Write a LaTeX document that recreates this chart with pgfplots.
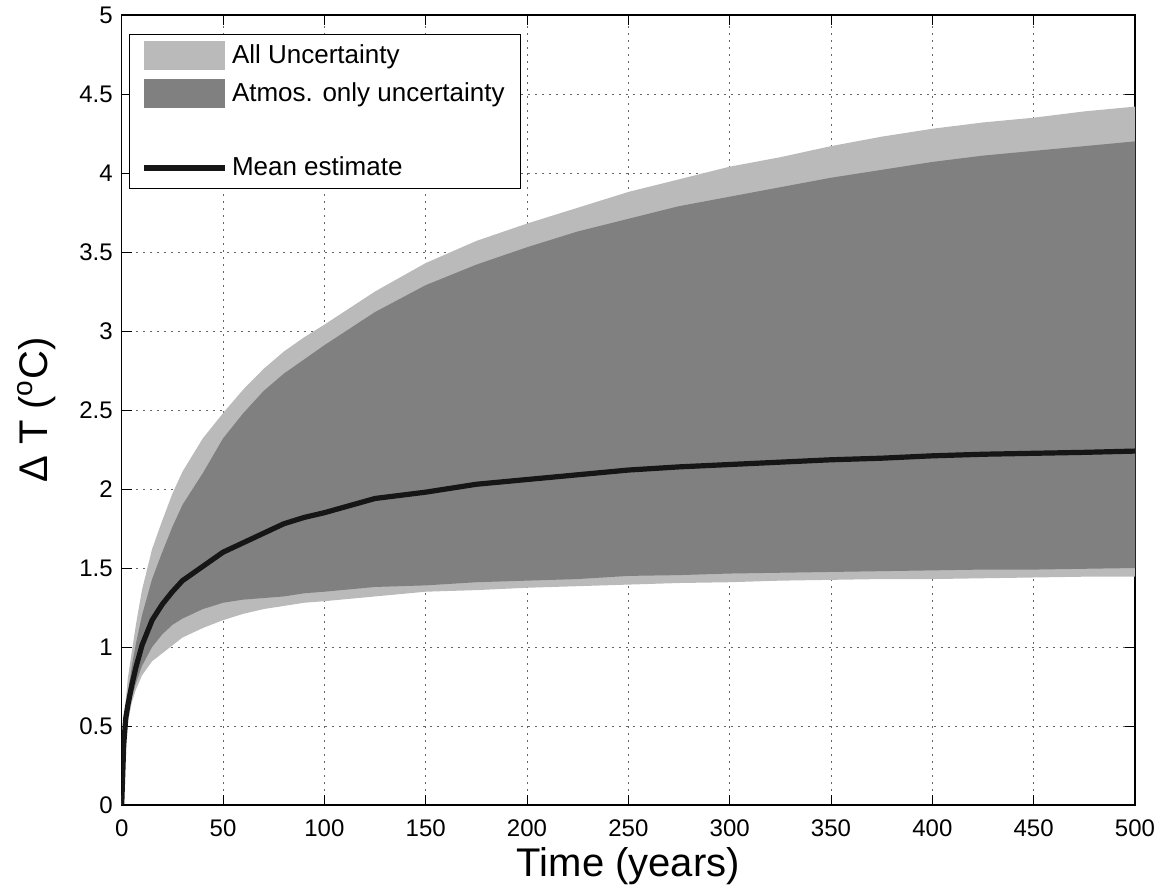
\documentclass[border=0pt]{standalone}
\usepackage{fontspec}
\setmainfont{Liberation Sans}
\usepackage{pgfplots}
\pgfplotsset{compat=1.18}
\usepgfplotslibrary{fillbetween}
\usepackage{pgfplotstable}

\pgfplotstableread{
x    lu    du    m     dl    ll
0    0     0     0     0     0
1    0.45  0.40  0.38  0.30  0.28
2    0.66  0.58  0.55  0.45  0.42
3    0.80  0.70  0.63  0.55  0.52
5    0.97  0.88  0.76  0.68  0.65
7    1.14  1.02  0.87  0.77  0.73
10   1.36  1.20  1.01  0.88  0.82
15   1.62  1.43  1.17  1.00  0.91
20   1.80  1.60  1.27  1.08  0.96
25   1.97  1.76  1.35  1.14  1.01
30   2.11  1.90  1.42  1.18  1.06
40   2.32  2.10  1.51  1.24  1.12
50   2.48  2.32  1.60  1.28  1.17
60   2.63  2.48  1.66  1.30  1.21
70   2.76  2.62  1.72  1.31  1.24
80   2.87  2.73  1.78  1.32  1.26
90   2.96  2.82  1.82  1.34  1.28
100  3.04  2.91  1.85  1.35  1.29
125  3.25  3.12  1.94  1.38  1.32
150  3.43  3.29  1.98  1.39  1.35
175  3.57  3.42  2.03  1.41  1.36
200  3.68  3.53  2.06  1.42  1.375
225  3.78  3.63  2.09  1.43  1.385
250  3.88  3.71  2.12  1.45  1.395
275  3.96  3.79  2.14  1.455 1.405
300  4.04  3.85  2.155 1.465 1.41
325  4.10  3.91  2.17  1.47  1.42
350  4.17  3.97  2.185 1.475 1.425
375  4.23  4.02  2.195 1.48  1.43
400  4.28  4.07  2.21  1.485 1.43
425  4.32  4.11  2.22  1.49  1.435
450  4.35  4.14  2.226 1.49  1.44
475  4.39  4.17  2.232 1.495 1.445
500  4.42  4.20  2.24  1.50  1.445
}\data

\definecolor{lightband}{RGB}{186,186,186}
\definecolor{darkband}{RGB}{128,128,128}
\definecolor{meanline}{RGB}{22,22,22}

\begin{document}
\begin{tikzpicture}
\begin{axis}[
  at={(0,0)}, anchor=south west,
  scale only axis, width=506.65pt, height=395pt,
  xmin=0, xmax=500, ymin=0, ymax=5,
  xtick={0,50,100,150,200,250,300,350,400,450,500},
  ytick={0,0.5,1,1.5,2,2.5,3,3.5,4,4.5,5},
  tick align=inside, tick pos=both,
  major tick length=5pt,
  axis line style={line width=0.6pt, black},
  every tick/.style={black, line width=0.5pt},
  grid=major,
  grid style={dash pattern=on 0.9pt off 2.6pt, black!60, line width=0.5pt},
  /pgf/number format/assume math mode=true,
  tick label style={font=\fontsize{12}{12}\selectfont},
  xticklabel style={anchor=center, yshift=-11.8pt},
  yticklabel style={anchor=east, xshift=-1pt},
  xlabel={Time (years)},
  ylabel={Δ T (\textsuperscript{o}C)},
  label style={font=\fontsize{20}{20}\selectfont},
  xlabel style={at={(axis description cs:0.5,0)}, anchor=center, yshift=-30.8pt},
  ylabel style={at={(axis description cs:0,0.5)}, anchor=center, yshift=42.5pt},
  legend cell align=left,
  legend style={at={(axis description cs:0,1)}, anchor=north west,
    xshift=3.8pt, yshift=-9.5pt, draw=black, line width=0.5pt, fill=white,
    font=\fontsize{13}{13}\selectfont,
    inner xsep=6pt, inner ysep=3pt, row sep=4pt},
]
\addplot[name path=lu, draw=none, forget plot] table[x=x,y=lu]{\data};
\addplot[name path=ll, draw=none, forget plot] table[x=x,y=ll]{\data};
\addplot[name path=du, draw=none, forget plot] table[x=x,y=du]{\data};
\addplot[name path=dl, draw=none, forget plot] table[x=x,y=dl]{\data};

\addplot[fill=lightband, draw=none,
  legend image code/.code={\fill[lightband, draw=none] (0pt,-7.2pt) rectangle (40.5pt,7.2pt);}]
  fill between[of=lu and ll];
\addlegendentry{All Uncertainty}

\addplot[fill=darkband, draw=none,
  legend image code/.code={\fill[darkband, draw=none] (0pt,-7.2pt) rectangle (40.5pt,7.2pt);}]
  fill between[of=du and dl];
\addlegendentry{Atmos. only uncertainty\hspace{14pt}}

\addlegendimage{legend image code/.code={\path[draw=none, fill=none] (0pt,-7.2pt) rectangle (40.5pt,7.2pt);}}
\addlegendentry{}

\addplot[meanline, line width=2.6pt,
  legend image code/.code={\draw[meanline, line width=2.6pt] (0pt,0pt) -- (40.5pt,0pt);}]
  table[x=x,y=m]{\data};
\addlegendentry{Mean estimate}
\end{axis}
\pgfresetboundingbox
\path[use as bounding box] (-60.85pt,-43pt) rectangle (523.15pt,402.5pt);
\end{tikzpicture}
\end{document}
